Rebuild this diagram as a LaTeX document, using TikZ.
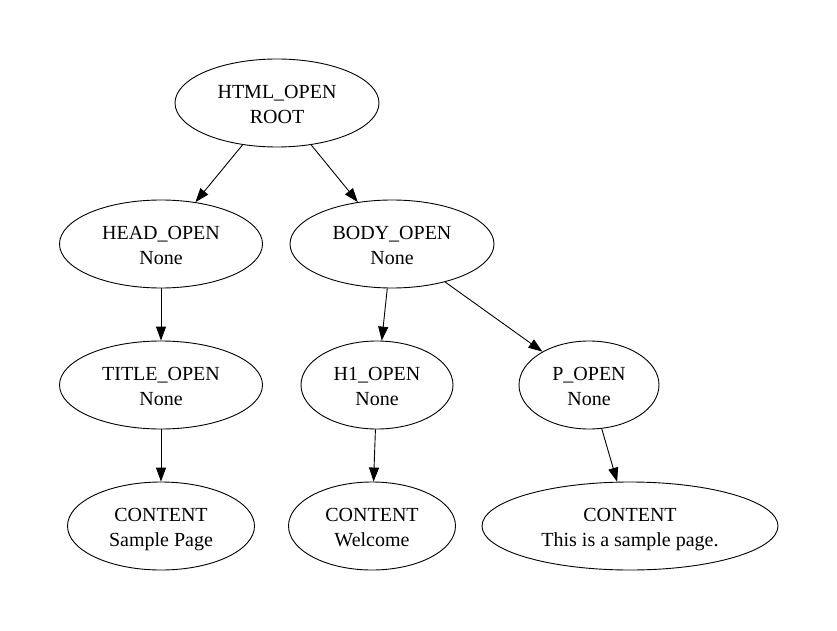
\documentclass[tikz,border=0pt]{standalone}
\usepackage{fontspec}
\setmainfont{Liberation Serif}
\usepackage{tikz}
\usetikzlibrary{arrows.meta, positioning, shapes.geometric}
\newcommand{\tagpair}[2]{\rule{0pt}{20pt}#1\\#2\rule[-4pt]{0pt}{4pt}}

\begin{document}
\begin{tikzpicture}[
  x=1pt, y=1pt,
  tag/.style={draw, ellipse, line width=0.9pt, inner sep=0pt,
              minimum height=88pt, align=center,
              font=\fontsize{20}{24.5}\selectfont},
  arrow/.style={-{Triangle[length=14pt, width=10pt]}, line width=0.9pt},
]
\useasboundingbox (0,0) rectangle (837,630);

% first two levels
\node[tag, minimum width=204pt] (html) at (277,527) {\tagpair{HTML\_OPEN}{ROOT}};
\node[tag, minimum width=203pt] (head) at (161,386) {\tagpair{HEAD\_OPEN}{None}};
\node[tag, minimum width=204pt] (body) at (392,386) {\tagpair{BODY\_OPEN}{None}};

% inner tags
\node[tag, minimum width=203pt] (title) at (161,245) {\tagpair{TITLE\_OPEN}{None}};
\node[tag, minimum width=152pt] (hone)  at (377,245) {\tagpair{H1\_OPEN}{None}};
\node[tag, minimum width=140pt] (para)  at (589,245) {\tagpair{P\_OPEN}{None}};

% text content
\node[tag, minimum width=187pt] (titletext) at (161,104) {\tagpair{CONTENT}{Sample Page}};
\node[tag, minimum width=167pt] (honetext)  at (372,104) {\tagpair{CONTENT}{Welcome}};
\node[tag, minimum width=296pt] (paratext)  at (630,104) {\tagpair{CONTENT}{This is a sample page.}};

\draw[arrow] (html) -- (head);
\draw[arrow] (html) -- (body);
\draw[arrow] (head) -- (title);
\draw[arrow] (body) -- (hone);
\draw[arrow] (body) -- (para);
\draw[arrow] (title) -- (titletext);
\draw[arrow] (hone) -- (honetext);
\draw[arrow] (para) -- (paratext);
\end{tikzpicture}
\end{document}
